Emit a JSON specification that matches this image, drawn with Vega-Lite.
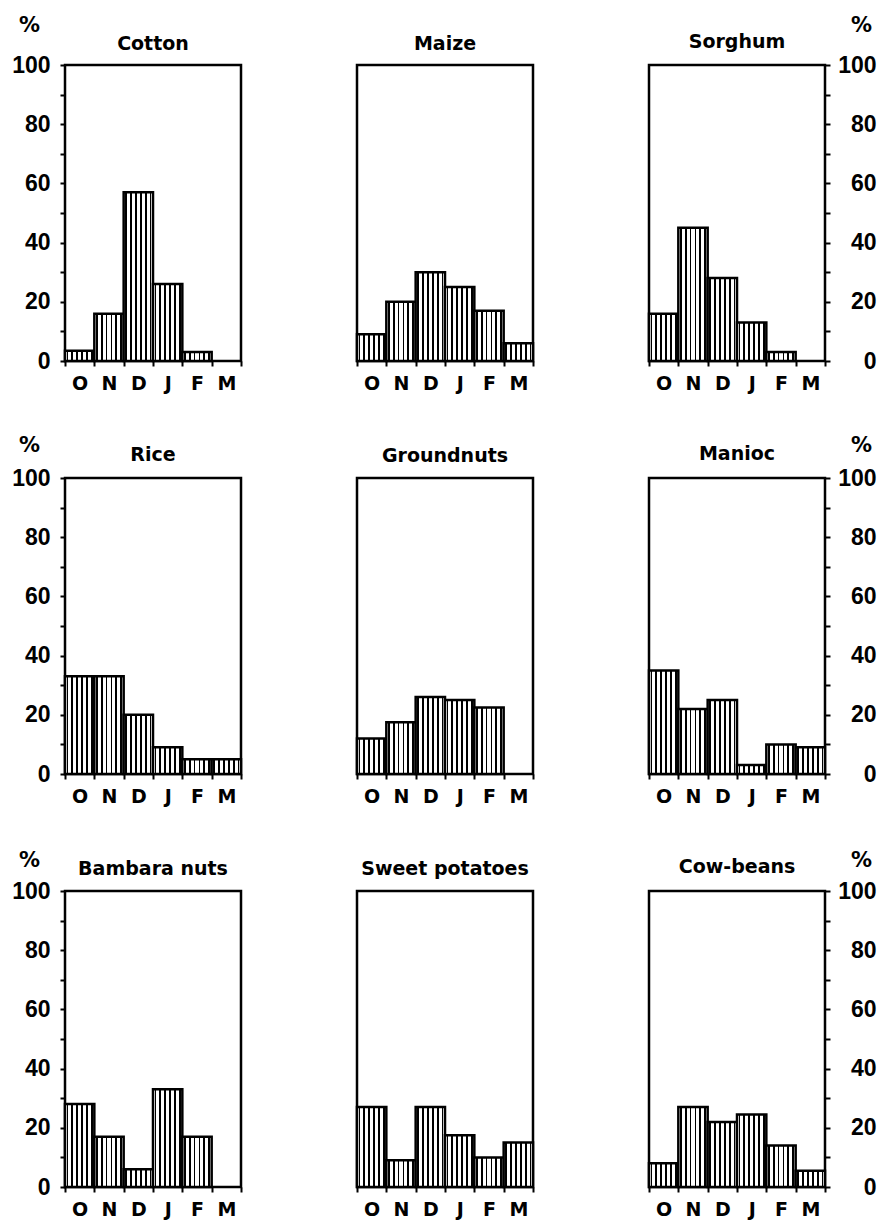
{
  "$schema": "https://vega.github.io/schema/vega-lite/v6.json",
  "padding": {"left": 10, "top": 12, "right": 2, "bottom": 5},
  "background": "white",
  "data": {
    "values": [
      {"crop": "Cotton", "month": "O", "pct": 3.5},
      {"crop": "Cotton", "month": "N", "pct": 16},
      {"crop": "Cotton", "month": "D", "pct": 57},
      {"crop": "Cotton", "month": "J", "pct": 26},
      {"crop": "Cotton", "month": "F", "pct": 3},
      {"crop": "Maize", "month": "O", "pct": 9},
      {"crop": "Maize", "month": "N", "pct": 20},
      {"crop": "Maize", "month": "D", "pct": 30},
      {"crop": "Maize", "month": "J", "pct": 25},
      {"crop": "Maize", "month": "F", "pct": 17},
      {"crop": "Maize", "month": "M", "pct": 6},
      {"crop": "Sorghum", "month": "O", "pct": 16},
      {"crop": "Sorghum", "month": "N", "pct": 45},
      {"crop": "Sorghum", "month": "D", "pct": 28},
      {"crop": "Sorghum", "month": "J", "pct": 13},
      {"crop": "Sorghum", "month": "F", "pct": 3},
      {"crop": "Rice", "month": "O", "pct": 33},
      {"crop": "Rice", "month": "N", "pct": 33},
      {"crop": "Rice", "month": "D", "pct": 20},
      {"crop": "Rice", "month": "J", "pct": 9},
      {"crop": "Rice", "month": "F", "pct": 5},
      {"crop": "Rice", "month": "M", "pct": 5},
      {"crop": "Groundnuts", "month": "O", "pct": 12},
      {"crop": "Groundnuts", "month": "N", "pct": 17.5},
      {"crop": "Groundnuts", "month": "D", "pct": 26},
      {"crop": "Groundnuts", "month": "J", "pct": 25},
      {"crop": "Groundnuts", "month": "F", "pct": 22.5},
      {"crop": "Manioc", "month": "O", "pct": 35},
      {"crop": "Manioc", "month": "N", "pct": 22},
      {"crop": "Manioc", "month": "D", "pct": 25},
      {"crop": "Manioc", "month": "J", "pct": 3},
      {"crop": "Manioc", "month": "F", "pct": 10},
      {"crop": "Manioc", "month": "M", "pct": 9},
      {"crop": "Bambara nuts", "month": "O", "pct": 28},
      {"crop": "Bambara nuts", "month": "N", "pct": 17},
      {"crop": "Bambara nuts", "month": "D", "pct": 6},
      {"crop": "Bambara nuts", "month": "J", "pct": 33},
      {"crop": "Bambara nuts", "month": "F", "pct": 17},
      {"crop": "Sweet potatoes", "month": "O", "pct": 27},
      {"crop": "Sweet potatoes", "month": "N", "pct": 9},
      {"crop": "Sweet potatoes", "month": "D", "pct": 27},
      {"crop": "Sweet potatoes", "month": "J", "pct": 17.5},
      {"crop": "Sweet potatoes", "month": "F", "pct": 10},
      {"crop": "Sweet potatoes", "month": "M", "pct": 15},
      {"crop": "Cow-beans", "month": "O", "pct": 8},
      {"crop": "Cow-beans", "month": "N", "pct": 27},
      {"crop": "Cow-beans", "month": "D", "pct": 22},
      {"crop": "Cow-beans", "month": "J", "pct": 24.5},
      {"crop": "Cow-beans", "month": "F", "pct": 14},
      {"crop": "Cow-beans", "month": "M", "pct": 5.5}
    ]
  },
  "columns": 3,
  "bounds": "flush",
  "spacing": {"row": 117, "column": 116},
  "concat": [
    {
      "title": {"text": "Cotton", "dy": 52},
      "width": 176, "height": 296,
      "transform": [{"filter": "datum.crop === 'Cotton'"}],
      "mark": {"type": "bar"},
      "encoding": {
        "x": {"field": "month", "type": "ordinal", "title": null, "scale": {"domain": ["O", "N", "D", "J", "F", "M"], "paddingInner": 0, "paddingOuter": 0}},
        "y": {"field": "pct", "type": "quantitative", "scale": {"domain": [0, 100]}, "axis": {"orient": "left", "title": "%", "titleX": -36, "titleY": -40}}
      }
    },
    {
      "title": {"text": "Maize", "dy": 1},
      "width": 176, "height": 296,
      "transform": [{"filter": "datum.crop === 'Maize'"}],
      "mark": {"type": "bar"},
      "encoding": {
        "x": {"field": "month", "type": "ordinal", "title": null, "scale": {"domain": ["O", "N", "D", "J", "F", "M"], "paddingInner": 0, "paddingOuter": 0}},
        "y": {"field": "pct", "type": "quantitative", "scale": {"domain": [0, 100]}, "axis": null}
      }
    },
    {
      "title": {"text": "Sorghum", "dy": 50},
      "width": 176, "height": 296,
      "transform": [{"filter": "datum.crop === 'Sorghum'"}],
      "mark": {"type": "bar"},
      "encoding": {
        "x": {"field": "month", "type": "ordinal", "title": null, "scale": {"domain": ["O", "N", "D", "J", "F", "M"], "paddingInner": 0, "paddingOuter": 0}},
        "y": {"field": "pct", "type": "quantitative", "scale": {"domain": [0, 100]}, "axis": {"orient": "right", "title": "%", "titleX": 36, "titleY": -40}}
      }
    },
    {
      "title": {"text": "Rice", "dy": 43},
      "width": 176, "height": 296,
      "transform": [{"filter": "datum.crop === 'Rice'"}],
      "mark": {"type": "bar"},
      "encoding": {
        "x": {"field": "month", "type": "ordinal", "title": null, "scale": {"domain": ["O", "N", "D", "J", "F", "M"], "paddingInner": 0, "paddingOuter": 0}},
        "y": {"field": "pct", "type": "quantitative", "scale": {"domain": [0, 100]}, "axis": {"orient": "left", "title": "%", "titleX": -36, "titleY": -33}}
      }
    },
    {
      "title": {"text": "Groundnuts"},
      "width": 176, "height": 296,
      "transform": [{"filter": "datum.crop === 'Groundnuts'"}],
      "mark": {"type": "bar"},
      "encoding": {
        "x": {"field": "month", "type": "ordinal", "title": null, "scale": {"domain": ["O", "N", "D", "J", "F", "M"], "paddingInner": 0, "paddingOuter": 0}},
        "y": {"field": "pct", "type": "quantitative", "scale": {"domain": [0, 100]}, "axis": null}
      }
    },
    {
      "title": {"text": "Manioc", "dy": 42},
      "width": 176, "height": 296,
      "transform": [{"filter": "datum.crop === 'Manioc'"}],
      "mark": {"type": "bar"},
      "encoding": {
        "x": {"field": "month", "type": "ordinal", "title": null, "scale": {"domain": ["O", "N", "D", "J", "F", "M"], "paddingInner": 0, "paddingOuter": 0}},
        "y": {"field": "pct", "type": "quantitative", "scale": {"domain": [0, 100]}, "axis": {"orient": "right", "title": "%", "titleX": 36, "titleY": -33}}
      }
    },
    {
      "title": {"text": "Bambara nuts", "dy": 42},
      "width": 176, "height": 296,
      "transform": [{"filter": "datum.crop === 'Bambara nuts'"}],
      "mark": {"type": "bar"},
      "encoding": {
        "x": {"field": "month", "type": "ordinal", "title": null, "scale": {"domain": ["O", "N", "D", "J", "F", "M"], "paddingInner": 0, "paddingOuter": 0}},
        "y": {"field": "pct", "type": "quantitative", "scale": {"domain": [0, 100]}, "axis": {"orient": "left", "title": "%", "titleX": -36, "titleY": -31}}
      }
    },
    {
      "title": {"text": "Sweet potatoes"},
      "width": 176, "height": 296,
      "transform": [{"filter": "datum.crop === 'Sweet potatoes'"}],
      "mark": {"type": "bar"},
      "encoding": {
        "x": {"field": "month", "type": "ordinal", "title": null, "scale": {"domain": ["O", "N", "D", "J", "F", "M"], "paddingInner": 0, "paddingOuter": 0}},
        "y": {"field": "pct", "type": "quantitative", "scale": {"domain": [0, 100]}, "axis": null}
      }
    },
    {
      "title": {"text": "Cow-beans", "dy": 40},
      "width": 176, "height": 296,
      "transform": [{"filter": "datum.crop === 'Cow-beans'"}],
      "mark": {"type": "bar"},
      "encoding": {
        "x": {"field": "month", "type": "ordinal", "title": null, "scale": {"domain": ["O", "N", "D", "J", "F", "M"], "paddingInner": 0, "paddingOuter": 0}},
        "y": {"field": "pct", "type": "quantitative", "scale": {"domain": [0, 100]}, "axis": {"orient": "right", "title": "%", "titleX": 36, "titleY": -31}}
      }
    }
  ],
  "config": {
    "view": {"stroke": "black", "strokeWidth": 2.5},
    "bar": {
      "stroke": "black",
      "strokeWidth": 2.5,
      "fill": {
        "gradient": "linear", "x1": 0, "x2": 1, "y1": 0, "y2": 0,
        "stops": [
          {"offset": 0, "color": "white"},
          {"offset": 0.053, "color": "white"}, {"offset": 0.053, "color": "black"}, {"offset": 0.113, "color": "black"}, {"offset": 0.113, "color": "white"},
          {"offset": 0.22, "color": "white"}, {"offset": 0.22, "color": "black"}, {"offset": 0.28, "color": "black"}, {"offset": 0.28, "color": "white"},
          {"offset": 0.387, "color": "white"}, {"offset": 0.387, "color": "black"}, {"offset": 0.447, "color": "black"}, {"offset": 0.447, "color": "white"},
          {"offset": 0.553, "color": "white"}, {"offset": 0.553, "color": "black"}, {"offset": 0.613, "color": "black"}, {"offset": 0.613, "color": "white"},
          {"offset": 0.72, "color": "white"}, {"offset": 0.72, "color": "black"}, {"offset": 0.78, "color": "black"}, {"offset": 0.78, "color": "white"},
          {"offset": 0.887, "color": "white"}, {"offset": 0.887, "color": "black"}, {"offset": 0.947, "color": "black"}, {"offset": 0.947, "color": "white"},
          {"offset": 1, "color": "white"}
        ]
      }
    },
    "title": {"font": "DejaVu Sans", "fontSize": 19, "fontWeight": "bold", "color": "black", "offset": 12, "baseline": "alphabetic", "frame": "group", "anchor": "middle"},
    "axisX": {"labelAngle": 0, "tickBand": "extent", "labelPadding": 8, "labelFont": "DejaVu Sans", "labelFontSize": 19, "labelFontWeight": "bold", "labelColor": "black", "tickSize": 5, "tickWidth": 2, "tickColor": "black", "domain": false, "grid": false},
    "axisY": {"tickCount": 10, "labelExpr": "datum.value % 20 === 0 ? datum.label : ''", "labelOverlap": false, "labelFont": "Liberation Sans", "labelFontSize": 23, "labelFontWeight": "bold", "labelColor": "black", "labelBaseline": "middle", "tickSize": 5, "tickWidth": 2, "tickColor": "black", "domain": false, "grid": false, "titleAngle": 0, "titleAlign": "center", "titleBaseline": "middle", "titleFont": "DejaVu Sans", "titleFontSize": 21, "titleFontWeight": "bold", "titleColor": "black"},
    "axisLeft": {"labelPadding": 10},
    "axisRight": {"labelPadding": 46, "labelAlign": "right"}
  }
}
